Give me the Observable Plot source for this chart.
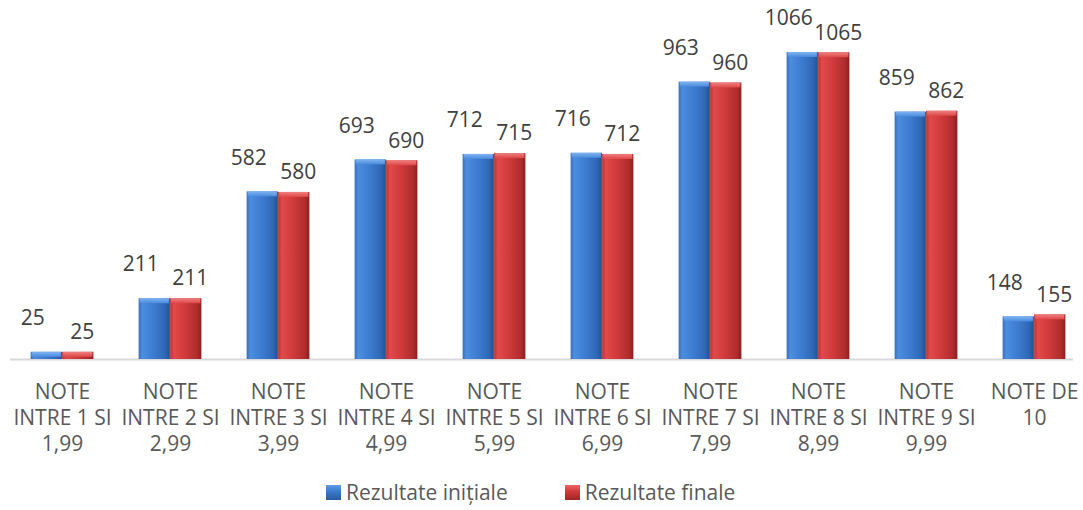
<!DOCTYPE html>
<html><head><meta charset="utf-8">
<script src="https://cdn.jsdelivr.net/npm/d3@7"></script>
<script src="https://cdn.jsdelivr.net/npm/@observablehq/plot@0.6"></script>
<style>
body{margin:0;background:#fff;font-family:"Open Sans",sans-serif;}
#chart{position:relative;width:1083px;height:510px;}
.legend{position:absolute;top:478px;left:326px;display:flex;align-items:center;font-size:21px;color:#595959;line-height:28px;}
.sw{width:15px;height:15px;display:inline-block;margin-right:5px;}
.sw.b{background:linear-gradient(to bottom,#5d9be6 0%,#3b78c9 45%,#2a5a9e 100%);}
.sw.r{background:linear-gradient(to bottom,#ea6464 0%,#d03838 45%,#9e2626 100%);}
</style></head><body><div id="chart"></div>
<script>
const categories = [
  "NOTE\nINTRE 1 SI\n1,99", "NOTE\nINTRE 2 SI\n2,99", "NOTE\nINTRE 3 SI\n3,99",
  "NOTE\nINTRE 4 SI\n4,99", "NOTE\nINTRE 5 SI\n5,99", "NOTE\nINTRE 6 SI\n6,99",
  "NOTE\nINTRE 7 SI\n7,99", "NOTE\nINTRE 8 SI\n8,99", "NOTE\nINTRE 9 SI\n9,99",
  "NOTE DE\n10"
];
const seriesNames = ["Rezultate inițiale", "Rezultate finale"];
const initialValues = [25, 211, 582, 693, 712, 716, 963, 1066, 859, 148];
const finalValues = [25, 211, 580, 690, 715, 712, 960, 1065, 862, 155];

const rowsInit = categories.map((c, i) => ({cat: c, series: seriesNames[0], value: initialValues[i]}));
const rowsFinal = categories.map((c, i) => ({cat: c, series: seriesNames[1], value: finalValues[i]}));

const W = 1083, H = 470;
const x0 = 6.5, x1 = 1088.5;
const step = (x1 - x0) / categories.length;
const barW = 31.5, groupW = 2 * barW;
const outer = (step - groupW) / 2;

const defs = () => {
  const d = d3.create("svg:defs");
  const mk = (id, stops, vertical) => {
    const g = d.append("linearGradient").attr("id", id)
      .attr("x1", 0).attr("y1", 0).attr("x2", vertical ? 0 : 1).attr("y2", vertical ? 1 : 0);
    stops.forEach(([o, c]) => g.append("stop").attr("offset", o).attr("stop-color", c));
  };
  mk("gBlue", [[0, "#3a70bd"], [0.12, "#4c8de0"], [0.45, "#3d7ed2"], [0.85, "#2f67b6"], [1, "#234f8e"]]);
  mk("gRed", [[0, "#b83232"], [0.12, "#e04a4a"], [0.45, "#d23b3b"], [0.85, "#b02d2d"], [1, "#8a2020"]]);
  mk("tBlue", [[0, "#7fb4f0"], [1, "#4a8ade"]], true);
  mk("tRed", [[0, "#f08080"], [1, "#de4848"]], true);
  return d.node();
};

const chart = Plot.plot({
  width: W, height: H,
  marginLeft: 10, marginRight: 10, marginTop: 52, marginBottom: H - 359,
  style: {fontFamily: "Open Sans, sans-serif", background: "#fff"},
  x: {domain: categories, range: [x0, x1], padding: 0, axis: null},
  y: {domain: [0, 1066], axis: null},
  marks: [
    defs,
    Plot.ruleY([0], {stroke: "#d9d9d9", strokeWidth: 2}),
    Plot.barY(rowsInit, {x: "cat", y: "value", fill: "url(#gBlue)", insetLeft: outer, insetRight: step - outer - barW}),
    Plot.barY(rowsFinal, {x: "cat", y: "value", fill: "url(#gRed)", insetLeft: outer + barW, insetRight: outer}),
    Plot.barY(rowsInit, {x: "cat", y1: "value", y2: "value", insetBottom: -5, fill: "url(#tBlue)", insetLeft: outer + 1, insetRight: step - outer - barW + 1}),
    Plot.barY(rowsFinal, {x: "cat", y1: "value", y2: "value", insetBottom: -5, fill: "url(#tRed)", insetLeft: outer + barW + 1, insetRight: outer + 1}),
    Plot.text(rowsInit, {x: "cat", y: "value", text: d => String(d.value), dx: -barW / 2 - 14, dy: -34, fontSize: 21, fill: "#404040"}),
    Plot.text(rowsFinal, {x: "cat", y: "value", text: d => String(d.value), dx: barW / 2 + 4, dy: -20, fontSize: 21, fill: "#404040"}),
    Plot.axisX({domain: categories, tickSize: 0, tickPadding: 21, fontSize: 21, lineHeight: 1.24, fill: "#595959", label: null})
  ]
});
const host = document.getElementById("chart");
host.appendChild(chart);
const lg = document.createElement("div");
lg.className = "legend";
lg.innerHTML = `<span class="sw b"></span><span>${seriesNames[0]}</span><span style="display:inline-block;width:57px"></span><span class="sw r"></span><span>${seriesNames[1]}</span>`;
host.appendChild(lg);
</script></body></html>
